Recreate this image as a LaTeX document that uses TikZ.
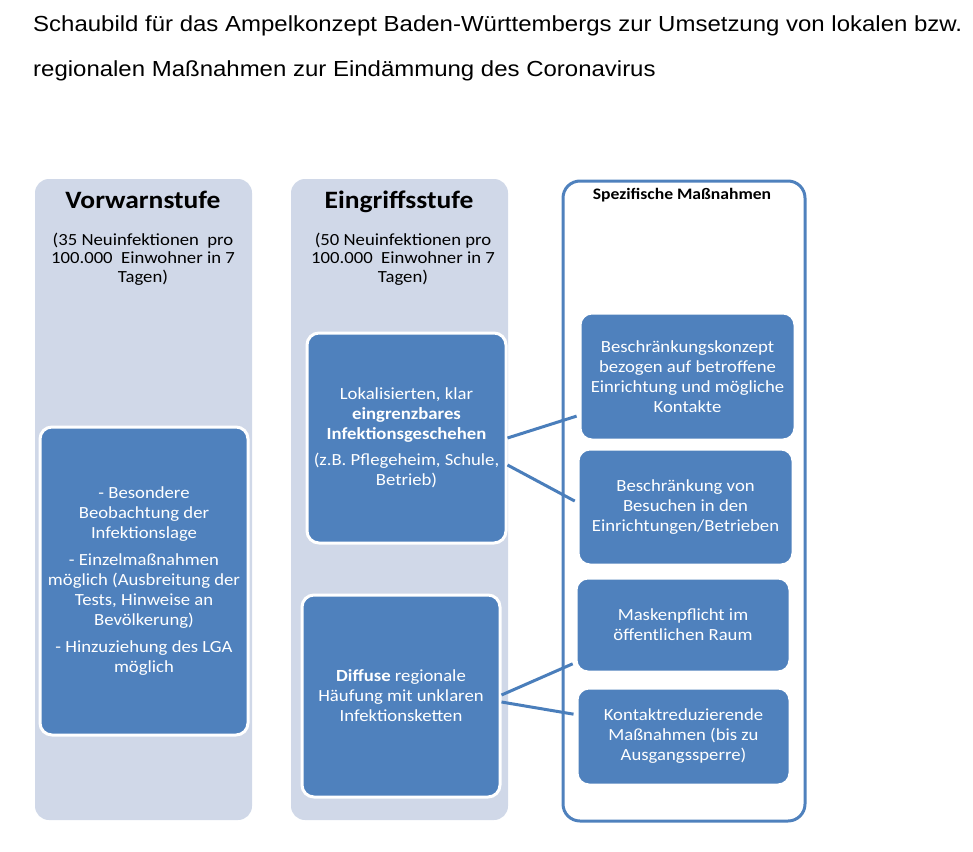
\documentclass[tikz,border=0pt]{standalone}
\usepackage{fontspec}
\setmainfont{Carlito}[FakeStretch=1.1]
\newfontfamily\titlefont{Liberation Sans}[FakeStretch=1.1]
\definecolor{boxblue}{HTML}{4F81BD}
\definecolor{colgray}{HTML}{D0D8E8}
\definecolor{lineblue}{HTML}{4A7EBB}

\begin{document}
\begin{tikzpicture}[x=1pt,y=-1pt]
% Stile
\tikzset{column/.style={rectangle,rounded corners=14pt,fill=colgray,inner sep=0pt},
  frame box/.style={rectangle,rounded corners=17pt,draw=boxblue,line width=3pt,fill=white,inner sep=0pt},
  blue box/.style={rectangle,rounded corners=12pt,fill=boxblue,draw=white,line width=3pt,text=white,align=center,inner sep=0pt,font=\fontsize{17}{20}\selectfont},
  heading/.style={anchor=base,font=\fontsize{25}{30}\selectfont\bfseries},
  subtext/.style={align=center,inner sep=0pt,font=\fontsize{17}{18.5}\selectfont},
  connector/.style={draw=lineblue,line width=3pt,shorten >=2pt}}

\useasboundingbox (0,0) rectangle (973,851);

% Ueberschrift
\node[anchor=base west,inner sep=0pt,font=\titlefont\fontsize{21.8}{26}\selectfont] (title1) at (33,32) {Schaubild für das Ampelkonzept Baden-Württembergs zur Umsetzung von lokalen bzw.};
\node[anchor=base west,inner sep=0pt,font=\titlefont\fontsize{21.8}{26}\selectfont] (title2) at (33,76) {regionalen Maßnahmen zur Eindämmung des Coronavirus};

% Spalten
\node[column,minimum width=217pt,minimum height=641pt] (vcol) at (143.5,499.5) {};
\node[column,minimum width=217pt,minimum height=641pt] (ecol) at (399.5,499.5) {};
\node[frame box,minimum width=242pt,minimum height=640pt] (scol) at (684,501) {};

\node[heading] (vhead) at (143,208) {Vorwarnstufe};
\node[subtext] (vsub) at (143,259) {(35 Neuinfektionen\ \ pro\\100.000\ \ Einwohner in 7\\Tagen)};
\node[heading] (ehead) at (399,208) {Eingriffsstufe};
\node[subtext] (esub) at (403,259) {(50 Neuinfektionen pro\\100.000\ \ Einwohner in 7\\Tagen)};
\node[anchor=base,font=\fontsize{16}{19}\selectfont\bfseries] (shead) at (682,199) {Spezifische Maßnahmen};

% Kaesten
\node[blue box,minimum width=208pt,minimum height=308pt] (vbox) at (144,581) {- Besondere\\Beobachtung der\\Infektionslage\\[7pt]- Einzelmaßnahmen\\möglich (Ausbreitung der\\Tests, Hinweise an\\Bevölkerung)\\[7pt]- Hinzuziehung des LGA\\möglich};
\node[blue box,minimum width=199pt,minimum height=210pt] (m1) at (406.5,438) {Lokalisierten, klar\\\textbf{eingrenzbares}\\\textbf{Infektionsgeschehen}\\[6pt](z.B. Pflegeheim, Schule,\\Betrieb)};
\node[blue box,minimum width=198pt,minimum height=202pt] (m2) at (401,696) {\textbf{Diffuse} regionale\\Häufung mit unklaren\\Infektionsketten};

\node[blue box,minimum width=215pt,minimum height=127pt] (r1) at (687.5,376.5) {Beschränkungskonzept\\bezogen auf betroffene\\Einrichtung und mögliche\\Kontakte};
\node[blue box,minimum width=215pt,minimum height=116pt] (r2) at (685.5,507) {Beschränkung von\\Besuchen in den\\Einrichtungen/Betrieben};
\node[blue box,minimum width=214pt,minimum height=94pt] (r3) at (683,625) {Maskenpflicht im\\öffentlichen Raum};
\node[blue box,minimum width=213pt,minimum height=97pt] (r4) at (683.5,736.5) {Kontaktreduzierende\\Maßnahmen (bis zu\\Ausgangssperre)};

% Verbindungen
\draw[connector] (m1.east) -- ([yshift=-39pt]r1.west);
\draw[connector] ([yshift=-27pt]m1.east) -- ([yshift=5pt]r2.west);
\draw[connector] ([yshift=1pt]m2.east) -- ([yshift=-38pt]r3.west);
\draw[connector] ([yshift=-6pt]m2.east) -- ([yshift=22pt]r4.west);

\end{tikzpicture}
\end{document}
